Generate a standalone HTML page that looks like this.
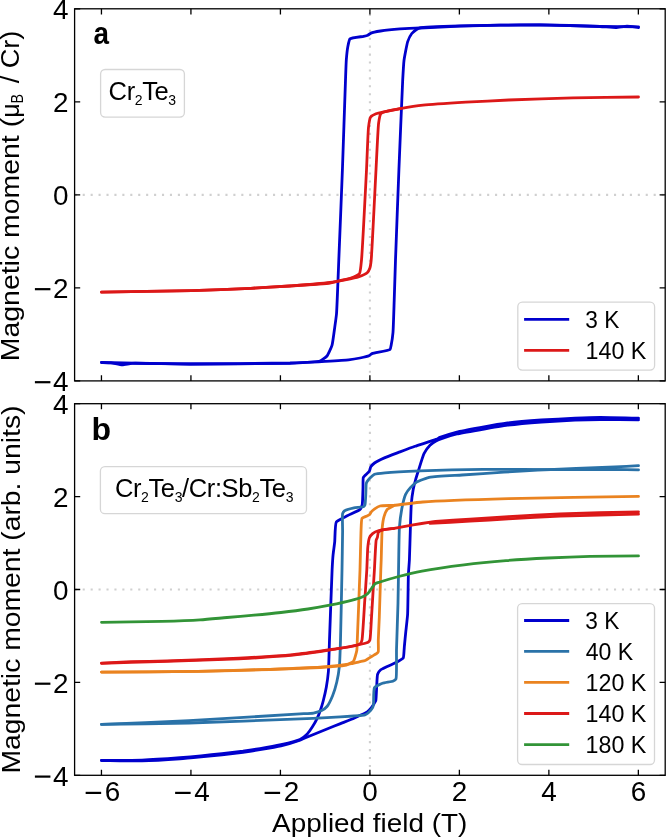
<!DOCTYPE html>
<html><head><meta charset="utf-8"><style>html,body{margin:0;padding:0;background:#fff;width:666px;height:837px;overflow:hidden}</style></head>
<body><svg width="666" height="837" viewBox="0 0 666 837" style="display:block;will-change:transform">
<rect width="666" height="837" fill="#fff"/>
<defs>
<clipPath id="ca"><rect x="74.6" y="8.8" width="590.6" height="372.09999999999997"/></clipPath>
<clipPath id="cb"><rect x="74.6" y="403.7" width="590.6" height="371.59999999999997"/></clipPath>
</defs>
<line x1="74.6" y1="194.85" x2="665.2" y2="194.85" stroke="#d0d0d0" stroke-width="2.1" stroke-dasharray="2.1 5.83" stroke-dashoffset="-0.15"/>
<line x1="369.9" y1="8.8" x2="369.9" y2="380.9" stroke="#d0d0d0" stroke-width="2.1" stroke-dasharray="2.1 5.83" stroke-dashoffset="2.83"/>
<line x1="74.6" y1="589.5" x2="665.2" y2="589.5" stroke="#d0d0d0" stroke-width="2.1" stroke-dasharray="2.1 5.83" stroke-dashoffset="-0.15"/>
<line x1="369.9" y1="403.7" x2="369.9" y2="775.3" stroke="#d0d0d0" stroke-width="2.1" stroke-dasharray="2.1 5.83" stroke-dashoffset="3.58"/>
<g clip-path="url(#ca)">
<path d="M638.50,27.50C636.77,27.29 628.71,26.09 627.00,26.10C625.33,26.11 617.81,27.54 616.00,27.60C613.83,27.67 603.17,26.65 600.00,26.50C593.87,26.20 548.09,24.87 540.00,24.80C533.39,24.74 506.00,25.10 500.00,25.20C494.00,25.31 466.00,25.99 460.00,26.20C454.00,26.41 424.97,27.78 420.00,28.00C416.49,28.16 402.98,28.67 400.00,28.90C397.05,29.12 382.90,30.61 380.50,31.00C378.81,31.28 372.02,32.67 371.00,33.10C370.36,33.37 368.33,34.96 367.80,35.20C367.23,35.45 364.41,36.12 363.60,36.30C362.15,36.63 351.11,37.88 350.00,38.90C349.17,39.66 348.16,45.01 347.90,46.30C347.56,48.03 346.48,57.75 346.30,60.00C346.09,62.71 345.65,75.92 345.50,80.00C345.18,88.65 342.90,156.50 342.40,170.00C341.90,183.50 339.29,248.21 338.80,260.00C338.42,269.13 336.97,308.59 336.50,314.00C336.26,316.72 335.01,325.42 334.70,327.60C334.35,330.09 332.70,343.12 332.00,345.40C331.44,347.24 328.01,354.79 327.00,356.00C326.14,357.03 321.52,360.46 320.00,361.00C317.15,362.02 295.82,362.78 290.00,363.00C279.39,363.41 200.00,364.01 190.00,364.00C185.00,364.00 169.01,363.75 165.00,363.70C160.39,363.64 135.47,363.05 132.00,363.30C130.11,363.43 123.81,364.82 122.30,364.80C120.67,364.78 112.63,362.97 111.00,362.80C109.52,362.65 102.92,362.55 101.50,362.50" fill="none" stroke="#0000cd" stroke-width="2.8" stroke-linejoin="round" stroke-linecap="round" />
<path d="M101.50,362.50C114.78,362.73 176.32,363.93 190.00,364.00C204.54,364.07 278.85,363.64 290.00,363.30C296.60,363.10 320.27,361.69 325.00,361.40C328.89,361.16 345.70,360.13 348.60,359.80C350.62,359.57 358.40,358.32 360.00,358.00C361.44,357.71 368.04,356.25 369.00,355.80C369.61,355.52 371.31,353.91 372.00,353.60C373.53,352.91 388.86,350.70 390.00,349.60C390.58,349.04 391.03,345.87 391.20,345.00C391.49,343.57 392.79,334.64 393.00,332.30C393.33,328.61 394.02,305.56 394.20,300.50C394.40,294.79 395.25,267.27 395.50,260.00C395.88,249.16 398.36,183.50 398.90,170.00C399.44,156.50 402.23,88.57 402.70,80.00C402.92,76.01 403.62,63.39 404.00,60.50C404.37,57.63 406.94,43.80 407.70,41.60C408.22,40.09 411.05,34.45 411.80,33.50C412.42,32.72 415.82,29.94 416.50,29.50C417.04,29.15 419.16,28.02 420.00,27.80C422.71,27.11 452.97,26.02 460.00,25.80C469.94,25.49 528.86,24.73 540.00,24.80C549.65,24.86 591.99,26.15 600.00,26.30C606.41,26.42 632.73,26.73 638.50,26.80" fill="none" stroke="#0000cd" stroke-width="2.8" stroke-linejoin="round" stroke-linecap="round" />
<path d="M638.50,97.00C628.67,97.14 582.77,97.67 573.00,97.90C563.32,98.12 517.46,99.64 508.80,100.00C501.72,100.30 472.33,101.81 465.90,102.20C459.46,102.59 428.41,104.61 423.00,105.20C419.05,105.63 403.42,108.06 400.30,108.60C397.65,109.06 386.01,111.35 384.00,111.80C382.58,112.12 377.06,113.35 376.00,113.80C375.06,114.20 371.07,116.38 370.50,117.20C369.79,118.23 368.75,125.25 368.50,127.30C367.99,131.48 366.89,162.42 366.50,170.00C365.94,181.01 362.27,252.47 361.50,260.00C361.20,262.93 360.49,272.12 359.50,273.50C358.64,274.70 351.82,277.65 350.30,278.20C348.62,278.81 339.65,280.61 338.00,281.00C336.67,281.32 331.68,282.73 330.00,283.00C326.29,283.60 295.70,285.60 289.70,286.00C283.80,286.39 257.15,287.98 250.70,288.30C242.79,288.69 201.76,290.32 192.00,290.60C179.89,290.94 115.08,291.96 101.50,292.20" fill="none" stroke="#dc1818" stroke-width="2.8" stroke-linejoin="round" stroke-linecap="round" />
<path d="M101.50,292.20C115.08,291.96 179.89,290.94 192.00,290.60C201.76,290.32 242.79,288.69 250.70,288.30C257.15,287.98 283.81,286.43 289.70,286.00C295.70,285.56 325.43,283.11 330.00,282.50C332.81,282.13 342.82,280.23 345.00,279.80C347.07,279.39 356.63,277.50 358.40,276.90C359.89,276.40 366.33,273.61 367.20,272.80C367.86,272.19 369.61,268.84 369.90,268.00C370.26,266.98 371.00,261.86 371.20,260.00C371.87,253.81 375.38,181.31 376.00,170.00C376.44,161.84 378.00,127.53 378.60,123.20C378.87,121.24 380.09,114.61 380.70,113.80C381.08,113.30 383.29,112.26 384.00,112.00C385.49,111.45 397.86,109.11 400.30,108.60" fill="none" stroke="#dc1818" stroke-width="2.8" stroke-linejoin="round" stroke-linecap="round" />
</g>
<g clip-path="url(#cb)">
<path d="M638.50,418.20C632.73,418.09 605.15,417.47 600.00,417.50C595.85,417.52 579.03,418.04 575.00,418.20C570.33,418.39 546.44,419.64 541.40,420.00C536.33,420.36 512.40,422.39 507.60,423.00C503.24,423.56 483.95,426.89 480.00,427.60C476.38,428.25 460.07,431.19 456.90,432.00C454.14,432.70 441.64,436.73 440.00,437.40C439.18,437.74 436.85,439.05 436.00,439.40C434.10,440.18 417.88,445.29 415.00,446.30C412.55,447.16 402.25,451.05 400.00,451.90C397.75,452.75 387.03,456.70 385.00,457.60C383.26,458.37 375.63,462.17 374.50,463.00C373.74,463.56 371.19,466.16 370.80,466.80C370.43,467.41 369.68,470.70 369.30,471.30C368.90,471.94 365.98,474.49 365.50,475.00C365.12,475.40 363.52,476.94 363.30,477.50C362.91,478.49 363.07,486.24 363.00,488.00C362.92,490.23 362.62,503.08 362.20,504.80C361.96,505.75 360.64,508.85 360.00,509.50C358.94,510.58 349.12,514.83 347.30,515.80C345.58,516.71 337.30,520.43 336.30,522.00C335.03,523.98 334.97,539.34 334.70,542.00C334.48,544.12 333.29,552.70 333.10,554.70C332.89,556.89 332.26,566.87 332.10,570.00C331.76,576.69 329.80,631.57 329.50,640.00C329.30,645.66 328.73,667.59 328.40,671.50C328.17,674.28 326.71,685.02 326.30,687.30C325.92,689.44 323.68,699.17 323.20,701.00C322.81,702.50 320.97,708.65 320.50,710.00C320.02,711.38 317.42,717.91 316.80,719.20C316.23,720.39 313.30,725.51 312.60,726.60C311.88,727.72 308.24,732.94 307.30,733.90C306.35,734.86 301.44,738.69 300.00,739.40C297.89,740.44 283.94,743.92 281.00,744.60C277.94,745.31 262.99,748.09 260.00,748.60C257.32,749.06 245.69,750.83 243.00,751.20C240.02,751.61 225.15,753.35 222.00,753.70C218.85,754.04 204.15,755.50 201.00,755.80C197.85,756.10 183.62,757.42 180.00,757.70C175.14,758.07 147.79,759.90 142.00,760.10C136.02,760.31 107.58,760.36 101.50,760.40" fill="none" stroke="#0000cd" stroke-width="2.8" stroke-linejoin="round" stroke-linecap="round" />
<path d="M101.50,760.50C107.58,760.56 136.02,761.04 142.00,760.90C147.79,760.77 175.14,759.15 180.00,758.80C183.62,758.54 197.85,757.20 201.00,756.90C204.15,756.60 218.85,755.14 222.00,754.80C225.15,754.45 240.02,752.71 243.00,752.30C245.69,751.93 257.32,750.15 260.00,749.70C262.99,749.20 277.95,746.63 281.00,745.90C283.94,745.19 297.42,741.13 300.00,740.20C302.22,739.40 311.47,735.34 313.50,734.50C315.52,733.66 324.97,729.82 327.00,729.00C329.02,728.18 338.48,724.41 340.50,723.60C342.52,722.79 352.33,718.92 354.00,718.20C355.20,717.69 359.79,715.60 360.80,715.10C361.83,714.59 366.75,712.13 367.60,711.50C368.33,710.95 371.09,708.05 371.60,707.40C372.08,706.80 373.96,703.77 374.30,703.20C374.57,702.76 375.63,701.09 375.80,700.50C376.18,699.21 376.56,688.06 376.70,686.00C376.83,684.15 377.14,675.60 377.60,674.30C377.91,673.41 379.93,670.45 380.70,669.80C382.05,668.65 394.16,663.61 396.00,662.60C397.31,661.89 402.60,659.06 403.20,658.10C403.79,657.16 404.01,651.00 404.10,650.00C404.17,649.30 404.33,646.78 404.40,646.00C404.53,644.52 405.57,633.94 405.80,631.70C406.05,629.24 407.41,617.62 407.60,614.50C407.90,609.74 408.20,578.80 408.40,574.30C408.52,571.61 409.27,562.58 409.40,560.00C409.59,556.14 410.25,532.27 410.40,527.80C410.53,523.95 411.03,507.02 411.30,503.90C411.51,501.48 412.84,491.52 413.20,489.60C413.50,488.01 415.10,481.45 415.50,480.00C415.91,478.51 418.06,471.68 418.60,470.00C419.29,467.84 422.99,455.59 424.00,453.60C424.78,452.06 429.01,446.18 430.00,445.20C430.84,444.37 435.13,441.49 436.00,441.00C436.74,440.59 439.86,439.25 440.80,438.90C442.49,438.27 454.25,434.64 456.90,434.00C460.03,433.24 476.38,430.43 480.00,429.80C483.95,429.11 503.24,425.77 507.60,425.20C512.40,424.57 536.33,422.38 541.40,422.00C546.44,421.63 570.33,420.39 575.00,420.20C579.03,420.04 595.85,419.54 600.00,419.50C605.15,419.45 632.73,419.84 638.50,419.90" fill="none" stroke="#0000cd" stroke-width="2.8" stroke-linejoin="round" stroke-linecap="round" />
<path d="M638.50,469.90C634.98,469.81 619.26,469.34 615.00,469.30C608.48,469.24 568.94,469.69 560.00,469.70C549.42,469.71 493.97,469.20 483.00,469.30C473.08,469.39 428.07,470.47 420.00,470.80C413.98,471.04 388.71,472.43 385.00,472.80C382.96,473.00 375.69,473.77 374.50,474.30C373.62,474.69 370.58,477.41 370.00,478.00C369.47,478.54 367.29,481.29 367.00,481.80C366.80,482.16 366.29,483.54 366.20,484.00C366.01,484.95 365.89,492.47 365.80,494.00C365.71,495.59 365.33,503.88 365.00,504.80C364.85,505.21 364.06,506.39 363.70,506.60C362.95,507.04 355.44,507.49 354.00,507.80C352.54,508.12 345.22,510.16 344.40,510.80C343.92,511.17 342.79,513.04 342.60,513.70C342.17,515.20 342.62,528.32 342.60,531.50C342.56,536.17 342.12,563.37 342.00,570.00C341.83,578.94 340.75,632.02 340.50,640.00C340.35,644.89 339.75,662.87 339.40,666.30C339.12,668.97 337.33,679.74 336.80,682.00C336.30,684.14 333.38,693.80 332.60,695.70C331.88,697.45 327.98,705.34 327.00,706.50C326.27,707.37 322.54,710.12 321.60,710.60C320.55,711.14 314.89,712.85 313.50,713.10C311.75,713.42 303.00,713.72 300.00,713.90C291.39,714.42 204.66,719.89 189.00,720.70C175.10,721.42 114.62,723.85 101.50,724.40" fill="none" stroke="#2a72a8" stroke-width="2.8" stroke-linejoin="round" stroke-linecap="round" />
<path d="M101.50,724.40C114.62,724.19 175.10,723.37 189.00,723.00C204.66,722.59 289.00,719.37 300.00,718.90C305.43,718.67 322.95,717.82 327.00,717.60C331.05,717.38 350.86,716.25 354.00,716.00C356.00,715.84 363.78,715.27 364.90,714.90C365.55,714.68 367.61,713.41 368.10,713.00C368.76,712.44 372.21,708.47 372.60,707.70C372.89,707.13 373.39,704.76 373.50,704.00C373.73,702.44 373.43,689.35 374.40,687.80C375.14,686.63 381.16,683.80 382.50,683.30C383.97,682.76 392.26,681.61 393.30,681.10C393.89,680.81 395.69,679.45 396.00,678.80C396.87,676.95 396.38,654.85 396.50,650.00C396.65,643.81 397.83,609.89 398.00,603.00C398.16,596.41 398.59,565.98 398.70,560.00C398.80,554.82 399.09,532.00 399.40,527.80C399.64,524.56 401.29,511.35 401.80,508.70C402.25,506.37 404.80,496.00 405.60,494.30C406.19,493.04 409.56,488.52 410.40,487.60C411.26,486.65 415.99,482.52 417.00,481.90C417.86,481.37 421.86,479.84 422.80,479.50C423.87,479.11 428.93,477.39 430.50,477.10C433.60,476.52 456.94,475.34 462.00,475.00C467.85,474.61 498.05,472.58 504.00,472.20C509.33,471.86 531.61,470.42 537.70,470.10C546.92,469.62 606.76,467.30 615.00,466.90C619.55,466.68 634.98,465.80 638.50,465.60" fill="none" stroke="#2a72a8" stroke-width="2.8" stroke-linejoin="round" stroke-linecap="round" />
<path d="M638.50,496.40C618.99,496.73 525.88,498.11 508.40,498.60C494.22,499.00 432.21,501.27 422.80,502.00C417.34,502.42 397.65,505.01 394.10,505.30C391.62,505.50 381.57,505.56 380.00,506.00C378.97,506.29 375.38,508.44 374.70,508.90C374.14,509.29 371.90,511.15 371.50,511.60C371.12,512.03 369.80,514.35 369.40,514.70C369.01,515.05 366.71,516.04 366.20,516.30C365.61,516.59 362.43,517.76 362.00,518.40C361.28,519.46 361.13,529.02 361.00,531.50C360.78,535.75 360.21,563.37 360.00,570.00C359.71,578.94 357.55,634.14 357.30,640.00C357.20,642.27 357.07,648.94 356.80,650.50C356.52,652.09 354.49,659.88 353.60,661.00C352.82,661.98 347.66,664.76 346.30,665.20C344.43,665.80 332.63,666.62 330.50,666.80C328.77,666.95 322.16,667.38 320.00,667.50C315.29,667.75 278.18,669.23 270.00,669.50C260.18,669.83 209.59,671.21 198.00,671.40C184.58,671.63 115.97,672.00 101.50,672.10" fill="none" stroke="#ea8320" stroke-width="2.8" stroke-linejoin="round" stroke-linecap="round" />
<path d="M101.50,672.10C115.97,672.00 184.58,671.64 198.00,671.40C209.59,671.19 260.18,669.65 270.00,669.30C278.18,669.01 313.37,667.72 320.00,667.20C325.28,666.79 348.28,664.14 351.50,663.60C353.19,663.32 358.88,661.95 360.00,661.70C360.88,661.50 364.50,660.79 365.20,660.50C365.84,660.23 368.40,658.47 369.00,658.10C369.64,657.70 372.84,655.81 373.50,655.40C374.13,655.00 377.26,653.05 377.60,652.70C377.78,652.52 378.22,651.87 378.30,651.60C378.53,650.79 378.26,642.03 378.30,640.00C378.36,637.16 379.15,621.32 379.30,617.30C379.52,611.49 380.64,574.47 380.80,570.00C380.87,567.94 381.13,561.93 381.20,560.00C381.32,556.54 381.85,531.40 382.20,527.80C382.41,525.63 383.64,517.79 384.10,516.30C384.48,515.08 386.70,509.94 387.40,509.20C387.98,508.58 391.65,506.94 392.20,506.60C392.56,506.38 393.81,505.50 394.10,505.30" fill="none" stroke="#ea8320" stroke-width="2.8" stroke-linejoin="round" stroke-linecap="round" />
<path d="M638.50,511.80C626.73,512.10 570.54,513.38 560.00,513.80C551.45,514.14 515.57,516.16 508.40,516.60C502.21,516.98 475.60,518.83 470.00,519.20C464.70,519.55 438.49,521.11 435.60,521.40C434.47,521.51 431.41,521.95 430.40,522.10C428.57,522.37 415.85,524.45 413.20,524.90C410.41,525.38 396.80,527.86 394.10,528.30C391.69,528.69 380.65,529.96 378.90,530.50C377.71,530.87 373.34,532.99 372.60,533.60C371.96,534.12 369.75,536.99 369.40,537.80C368.93,538.90 367.98,545.56 367.80,547.30C367.52,549.97 367.00,566.32 366.80,570.00C366.56,574.34 365.04,596.54 364.70,601.50C364.32,606.99 362.64,637.35 362.00,640.00C361.80,640.83 360.97,643.07 360.50,643.50C359.76,644.18 353.06,646.13 351.50,646.50C349.49,646.98 338.16,648.46 335.80,648.80C333.43,649.15 322.69,650.73 320.00,651.10C316.49,651.58 297.75,654.13 293.00,654.60C286.30,655.26 247.69,657.75 239.00,658.20C228.98,658.72 175.95,660.63 167.00,660.90C160.67,661.09 136.13,661.51 131.00,661.70C126.35,661.87 105.92,662.98 101.50,663.20" fill="none" stroke="#dc1818" stroke-width="2.8" stroke-linejoin="round" stroke-linecap="round" />
<path d="M101.50,663.30C105.92,663.16 126.35,662.54 131.00,662.40C136.13,662.25 160.67,661.60 167.00,661.40C175.95,661.11 228.98,659.31 239.00,658.80C247.69,658.35 286.30,655.86 293.00,655.20C297.75,654.73 315.70,652.36 320.00,651.70C324.92,650.95 351.23,646.26 355.00,645.50C357.12,645.07 364.97,643.32 366.00,643.00C366.48,642.85 368.01,642.32 368.30,642.10C368.60,641.87 369.70,640.53 369.90,640.00C370.49,638.45 371.27,620.83 371.50,617.30C371.75,613.50 372.87,594.72 373.10,591.00C373.30,587.67 374.19,573.43 374.40,570.00C374.65,565.90 375.69,542.03 376.20,540.00C376.36,539.37 377.25,537.86 377.40,537.40C377.59,536.79 377.97,533.03 378.30,532.50C378.57,532.06 380.40,530.76 381.00,530.50C382.19,529.99 392.13,528.63 394.10,528.30" fill="none" stroke="#dc1818" stroke-width="2.8" stroke-linejoin="round" stroke-linecap="round" />
<path d="M430.00,523.40C436.00,523.07 464.06,521.55 470.00,521.20C475.82,520.86 502.21,519.16 508.40,518.80C515.57,518.39 551.45,516.43 560.00,516.10C570.54,515.69 626.73,514.40 638.50,514.10" fill="none" stroke="#dc1818" stroke-width="2.8" stroke-linejoin="round" stroke-linecap="round" />
<path d="M101.50,622.30C115.62,622.09 149.52,621.74 162.00,621.40C171.89,621.13 191.89,620.42 200.00,619.90C206.84,619.46 220.70,618.05 227.00,617.50C233.30,616.95 247.70,615.78 254.00,615.20C260.30,614.62 274.71,613.22 281.00,612.50C287.31,611.78 302.05,609.91 308.00,609.00C313.35,608.19 324.65,606.20 329.70,605.20C334.77,604.19 347.23,601.52 351.40,600.40C354.38,599.60 360.15,597.91 362.20,597.00C363.72,596.32 366.52,594.77 367.60,593.80C368.70,592.80 370.61,589.70 371.50,588.50C372.34,587.37 373.97,584.56 375.00,583.80C375.98,583.08 378.45,582.51 380.00,582.00C382.96,581.03 394.08,577.71 398.70,576.50C403.82,575.16 415.74,572.29 422.00,571.10C430.34,569.51 454.18,566.03 464.00,564.80C473.78,563.58 496.19,561.39 506.00,560.60C515.79,559.81 538.20,558.49 548.00,558.00C557.80,557.51 579.85,556.65 590.00,556.40C600.91,556.14 627.18,556.02 638.50,555.90" fill="none" stroke="#329437" stroke-width="2.8" stroke-linejoin="round" stroke-linecap="round" />
</g>
<rect x="74.6" y="8.8" width="590.6" height="372.09999999999997" fill="none" stroke="#000" stroke-width="1.3"/>
<path d="M101.45,380.90v-5.6M101.45,8.80v5.6M190.93,380.90v-5.6M190.93,8.80v5.6M280.42,380.90v-5.6M280.42,8.80v5.6M369.90,380.90v-5.6M369.90,8.80v5.6M459.38,380.90v-5.6M459.38,8.80v5.6M548.87,380.90v-5.6M548.87,8.80v5.6M638.35,380.90v-5.6M638.35,8.80v5.6M74.60,380.90h5.6M665.20,380.90h-5.6M74.60,287.88h5.6M665.20,287.88h-5.6M74.60,194.85h5.6M665.20,194.85h-5.6M74.60,101.82h5.6M665.20,101.82h-5.6M74.60,8.80h5.6M665.20,8.80h-5.6" stroke="#000" stroke-width="1.3" fill="none"/>
<rect x="74.6" y="403.7" width="590.6" height="371.59999999999997" fill="none" stroke="#000" stroke-width="1.3"/>
<path d="M101.45,775.30v-5.6M101.45,403.70v5.6M190.93,775.30v-5.6M190.93,403.70v5.6M280.42,775.30v-5.6M280.42,403.70v5.6M369.90,775.30v-5.6M369.90,403.70v5.6M459.38,775.30v-5.6M459.38,403.70v5.6M548.87,775.30v-5.6M548.87,403.70v5.6M638.35,775.30v-5.6M638.35,403.70v5.6M74.60,775.30h5.6M665.20,775.30h-5.6M74.60,682.40h5.6M665.20,682.40h-5.6M74.60,589.50h5.6M665.20,589.50h-5.6M74.60,496.60h5.6M665.20,496.60h-5.6M74.60,403.70h5.6M665.20,403.70h-5.6" stroke="#000" stroke-width="1.3" fill="none"/>
<text x="68.5" y="391.10" font-family='"Liberation Sans", sans-serif' font-size="26.8" text-anchor="end" textLength="15.50" lengthAdjust="spacingAndGlyphs" fill="#000">4</text>
<rect x="34.90" y="381.10" width="15.5" height="2.2" fill="#000"/>
<text x="68.5" y="298.07" font-family='"Liberation Sans", sans-serif' font-size="26.8" text-anchor="end" textLength="15.50" lengthAdjust="spacingAndGlyphs" fill="#000">2</text>
<rect x="34.90" y="288.07" width="15.5" height="2.2" fill="#000"/>
<text x="68.5" y="205.05" font-family='"Liberation Sans", sans-serif' font-size="26.8" text-anchor="end" textLength="15.50" lengthAdjust="spacingAndGlyphs" fill="#000">0</text>
<text x="68.5" y="112.02" font-family='"Liberation Sans", sans-serif' font-size="26.8" text-anchor="end" textLength="15.50" lengthAdjust="spacingAndGlyphs" fill="#000">2</text>
<text x="68.5" y="19.00" font-family='"Liberation Sans", sans-serif' font-size="26.8" text-anchor="end" textLength="15.50" lengthAdjust="spacingAndGlyphs" fill="#000">4</text>
<text x="68.5" y="785.50" font-family='"Liberation Sans", sans-serif' font-size="26.8" text-anchor="end" textLength="15.50" lengthAdjust="spacingAndGlyphs" fill="#000">4</text>
<rect x="34.90" y="775.50" width="15.5" height="2.2" fill="#000"/>
<text x="68.5" y="692.60" font-family='"Liberation Sans", sans-serif' font-size="26.8" text-anchor="end" textLength="15.50" lengthAdjust="spacingAndGlyphs" fill="#000">2</text>
<rect x="34.90" y="682.60" width="15.5" height="2.2" fill="#000"/>
<text x="68.5" y="599.70" font-family='"Liberation Sans", sans-serif' font-size="26.8" text-anchor="end" textLength="15.50" lengthAdjust="spacingAndGlyphs" fill="#000">0</text>
<text x="68.5" y="506.80" font-family='"Liberation Sans", sans-serif' font-size="26.8" text-anchor="end" textLength="15.50" lengthAdjust="spacingAndGlyphs" fill="#000">2</text>
<text x="68.5" y="413.90" font-family='"Liberation Sans", sans-serif' font-size="26.8" text-anchor="end" textLength="15.50" lengthAdjust="spacingAndGlyphs" fill="#000">4</text>
<rect x="85.65" y="791.80" width="15.5" height="2.2" fill="#000"/>
<text x="104.85" y="801.0" font-family='"Liberation Sans", sans-serif' font-size="26.8" textLength="15.50" lengthAdjust="spacingAndGlyphs" fill="#000">6</text>
<rect x="175.13" y="791.80" width="15.5" height="2.2" fill="#000"/>
<text x="194.33" y="801.0" font-family='"Liberation Sans", sans-serif' font-size="26.8" textLength="15.50" lengthAdjust="spacingAndGlyphs" fill="#000">4</text>
<rect x="264.62" y="791.80" width="15.5" height="2.2" fill="#000"/>
<text x="283.82" y="801.0" font-family='"Liberation Sans", sans-serif' font-size="26.8" textLength="15.50" lengthAdjust="spacingAndGlyphs" fill="#000">2</text>
<text x="370.10" y="801.0" font-family='"Liberation Sans", sans-serif' font-size="26.8" text-anchor="middle" textLength="15.50" lengthAdjust="spacingAndGlyphs" fill="#000">0</text>
<text x="459.58" y="801.0" font-family='"Liberation Sans", sans-serif' font-size="26.8" text-anchor="middle" textLength="15.50" lengthAdjust="spacingAndGlyphs" fill="#000">2</text>
<text x="549.07" y="801.0" font-family='"Liberation Sans", sans-serif' font-size="26.8" text-anchor="middle" textLength="15.50" lengthAdjust="spacingAndGlyphs" fill="#000">4</text>
<text x="638.55" y="801.0" font-family='"Liberation Sans", sans-serif' font-size="26.8" text-anchor="middle" textLength="15.50" lengthAdjust="spacingAndGlyphs" fill="#000">6</text>
<text x="272.10" y="831.6" font-family='"Liberation Sans", sans-serif' font-size="25.7" textLength="195.24" lengthAdjust="spacingAndGlyphs" fill="#000">Applied field (T)</text>
<g transform="translate(19.4,361.2) rotate(-90)"><text x="-0.02" y="0" font-family='"Liberation Sans", sans-serif' font-size="25.7" textLength="243.36" lengthAdjust="spacingAndGlyphs" fill="#000">Magnetic moment (</text><text x="243.43" y="0" font-family='"Liberation Sans", sans-serif' font-size="25.7" textLength="14.50" lengthAdjust="spacingAndGlyphs" fill="#000">μ</text><text x="257.69" y="3.4" font-family='"Liberation Sans", sans-serif' font-size="17" textLength="9.51" lengthAdjust="spacingAndGlyphs" fill="#000">B</text><text x="277.90" y="0" font-family='"Liberation Sans", sans-serif' font-size="25.7" textLength="52.70" lengthAdjust="spacingAndGlyphs" fill="#000">/ Cr)</text></g>
<g transform="translate(19.9,774.0) rotate(-90)"><text x="0.49" y="0" font-family='"Liberation Sans", sans-serif' font-size="25.7" textLength="367.98" lengthAdjust="spacingAndGlyphs" fill="#000">Magnetic moment (arb. units)</text></g>
<text x="93.4" y="44.3" font-family='"Liberation Sans", sans-serif' font-weight="bold" font-size="32" textLength="15.5" lengthAdjust="spacingAndGlyphs" fill="#000">a</text>
<text x="91.5" y="439.7" font-family='"Liberation Sans", sans-serif' font-weight="bold" font-size="32" fill="#000">b</text>
<rect x="100.6" y="69.5" width="83.8" height="47.6" rx="4.5" fill="#fff" fill-opacity="0.8" stroke="#d6d6d6" stroke-width="1.3"/>
<text x="108.6" y="99.7" font-family='"Liberation Sans", sans-serif' font-size="25.5" letter-spacing="-0.38" fill="#000"><tspan y="99.7">Cr</tspan><tspan font-size="14" y="104.7">2</tspan><tspan y="99.7">Te</tspan><tspan font-size="14" y="104.7">3</tspan></text>
<rect x="100.4" y="466.6" width="206.1" height="47.1" rx="4.5" fill="#fff" fill-opacity="0.8" stroke="#d6d6d6" stroke-width="1.3"/>
<text x="114.9" y="497.0" font-family='"Liberation Sans", sans-serif' font-size="25.5" letter-spacing="-0.38" fill="#000"><tspan y="497.0">Cr</tspan><tspan font-size="14" y="502.0">2</tspan><tspan y="497.0">Te</tspan><tspan font-size="14" y="502.0">3</tspan><tspan y="497.0">/Cr:Sb</tspan><tspan font-size="14" y="502.0">2</tspan><tspan y="497.0">Te</tspan><tspan font-size="14" y="502.0">3</tspan></text>
<rect x="517.8" y="302.2" width="136.80000000000007" height="67.90000000000003" rx="4.5" fill="#fff" fill-opacity="0.8" stroke="#d6d6d6" stroke-width="1.3"/><line x1="525.5" y1="319.3" x2="567.8" y2="319.3" stroke="#0000cd" stroke-width="2.8" stroke-linecap="square"/><text x="585.29" y="327.8" font-family='"Liberation Sans", sans-serif' font-size="23.7" textLength="33.95" lengthAdjust="spacingAndGlyphs" fill="#000">3 K</text><line x1="525.5" y1="350.3" x2="567.8" y2="350.3" stroke="#dc1818" stroke-width="2.8" stroke-linecap="square"/><text x="585.55" y="358.8" font-family='"Liberation Sans", sans-serif' font-size="23.7" textLength="60.80" lengthAdjust="spacingAndGlyphs" fill="#000">140 K</text>
<rect x="517.6" y="603.6" width="136.89999999999998" height="160.89999999999998" rx="4.5" fill="#fff" fill-opacity="0.8" stroke="#d6d6d6" stroke-width="1.3"/><line x1="525.5" y1="620.5" x2="567.8" y2="620.5" stroke="#0000cd" stroke-width="2.8" stroke-linecap="square"/><text x="585.29" y="629.0" font-family='"Liberation Sans", sans-serif' font-size="23.7" textLength="33.95" lengthAdjust="spacingAndGlyphs" fill="#000">3 K</text><line x1="525.5" y1="651.4" x2="567.8" y2="651.4" stroke="#2a72a8" stroke-width="2.8" stroke-linecap="square"/><text x="585.64" y="659.9" font-family='"Liberation Sans", sans-serif' font-size="23.7" textLength="47.51" lengthAdjust="spacingAndGlyphs" fill="#000">40 K</text><line x1="525.5" y1="682.4" x2="567.8" y2="682.4" stroke="#ea8320" stroke-width="2.8" stroke-linecap="square"/><text x="585.55" y="690.9" font-family='"Liberation Sans", sans-serif' font-size="23.7" textLength="60.80" lengthAdjust="spacingAndGlyphs" fill="#000">120 K</text><line x1="525.5" y1="713.5" x2="567.8" y2="713.5" stroke="#dc1818" stroke-width="2.8" stroke-linecap="square"/><text x="585.55" y="722.0" font-family='"Liberation Sans", sans-serif' font-size="23.7" textLength="60.80" lengthAdjust="spacingAndGlyphs" fill="#000">140 K</text><line x1="525.5" y1="744.6" x2="567.8" y2="744.6" stroke="#329437" stroke-width="2.8" stroke-linecap="square"/><text x="585.55" y="753.1" font-family='"Liberation Sans", sans-serif' font-size="23.7" textLength="60.80" lengthAdjust="spacingAndGlyphs" fill="#000">180 K</text>
</svg></body></html>
